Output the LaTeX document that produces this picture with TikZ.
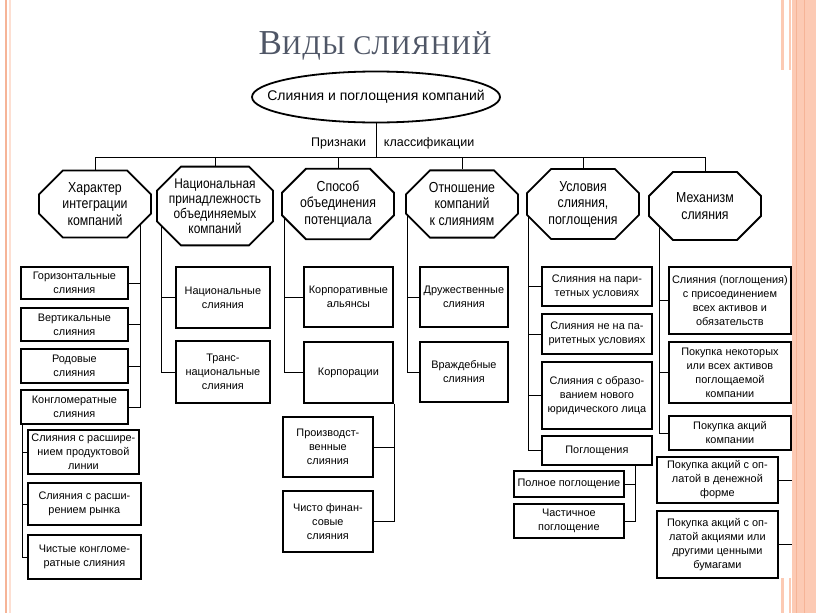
\documentclass[tikz,border=0pt]{standalone}
\usepackage{fontspec}
\setmainfont{Liberation Serif}
\newfontfamily\narrowsans{Liberation Sans}[FakeStretch=0.85]
\newfontfamily\plainsans{Liberation Sans}
\newfontfamily\titlefont{Liberation Serif}[LetterSpace=4]
\usepackage{tikz}
\usetikzlibrary{shapes.geometric, shapes.misc, backgrounds}
\definecolor{titlegray}{HTML}{4F5666}
\definecolor{peach}{HTML}{FCCAB4}
\definecolor{peachline}{HTML}{F6B497}

\begin{document}
\begin{tikzpicture}[x=1pt, y=-1pt, line width=1.8pt]

\tikzstyle{octa} = [chamfered rectangle, chamfered rectangle xsep=12pt, chamfered rectangle ysep=12pt, draw, fill=white, align=center, inner sep=0pt, minimum width=112pt, minimum height=64pt, font=\narrowsans\fontsize{14.5}{16.5}\selectfont]
\tikzstyle{box} = [rectangle, draw, fill=white, align=center, anchor=north west, inner sep=1pt, font=\plainsans\fontsize{10.9}{14}\selectfont]
\tikzstyle{tag} = [inner sep=0pt, font=\plainsans\fontsize{12.5}{14}\selectfont]

\useasboundingbox (0,0) rectangle (816,613);

% slide frame
\fill[peach] (792,0) rectangle (816,613);
\draw[peachline, line width=1pt] (796,0) -- (796,613);
\draw[peachline, line width=1pt] (804,0) -- (804,613);
\fill[peach] (781,0) rectangle (784,70);
\fill[peach] (789,0) rectangle (791,70);
\fill[peach] (781,578) rectangle (784,613);
\fill[peach] (789,578) rectangle (791,613);
\draw[peachline, line width=2.5pt] (6,0) -- (6,613);
\draw[peach!60, line width=1.5pt] (10,0) -- (10,613);

\node (title) [text=titlegray, font=\titlefont] at (375,46) {\fontsize{35}{35}\selectfont В\fontsize{27}{27}\selectfont ИДЫ СЛИЯНИЙ};

\node (merger) [ellipse, draw, minimum width=248pt, minimum height=51pt, inner xsep=-21pt, inner ysep=0pt, font=\plainsans\fontsize{14}{16}\selectfont] at (376,97) {Слияния и поглощения компаний};
\node (signs) [tag, anchor=east] at (367,143) {Признаки};
\node (classif) [tag, anchor=west] at (383,143) {классификации};
\coordinate (bus) at (376,157);

% criteria
\node (char) [octa] at (95,204) {Характер\\интеграции\\компаний};
\node (natl) [octa, minimum height=70pt, font=\narrowsans\fontsize{14}{15}\selectfont] at (215,206) {Национальная\\принадлежность\\объединяемых\\компаний};
\node (method) [octa] at (338,204) {Способ\\объединения\\потенциала};
\node (attitude) [octa] at (462,204) {Отношение\\компаний\\к слияниям};
\node (terms) [octa] at (583,204) {Условия\\слияния,\\поглощения};
\node (mech) [octa, minimum height=68pt] at (705,206) {Механизм\\слияния};

% integration
\node (horiz) [box, minimum width=107pt, minimum height=32pt] at (20,266) {Горизонтальные\\слияния};
\node (vert) [box, minimum width=107pt, minimum height=33pt] at (20,307) {Вертикальные\\слияния};
\node (gener) [box, minimum width=107pt, minimum height=34pt] at (20,348) {Родовые\\слияния};
\node (conglo) [box, minimum width=107pt, minimum height=34pt] at (20,389) {Конгломератные\\слияния};
\node (prodline) [box, minimum width=111pt, minimum height=44pt] at (27,429) {Слияния с расшире-\\нием продуктовой\\линии};
\node (market) [box, minimum width=113pt, minimum height=42pt] at (27,482) {Слияния с расши-\\рением рынка};
\node (pureconglo) [box, minimum width=113pt, minimum height=44pt] at (27,534) {Чистые конгломе-\\ратные слияния};

% nationality
\node (nat) [box, minimum width=94pt, minimum height=61pt] at (175,266) {Национальные\\слияния};
\node (trans) [box, minimum width=94pt, minimum height=62pt] at (175,340) {Транс-\\национальные\\слияния};

% potential
\node (alliance) [box, minimum width=89pt, minimum height=60pt] at (303,266) {Корпоративные\\альянсы};
\node (corp) [box, minimum width=89pt, minimum height=61pt] at (303,341) {Корпорации};
\node (product) [box, minimum width=90pt, minimum height=60pt] at (282,416) {Производст-\\венные\\слияния};
\node (finance) [box, minimum width=90pt, minimum height=61pt] at (282,490) {Чисто финан-\\совые\\слияния};

% attitude
\node (friendly) [box, minimum width=88pt, minimum height=60pt] at (419,266) {Дружественные\\слияния};
\node (hostile) [box, minimum width=88pt, minimum height=60pt] at (419,341) {Враждебные\\слияния};

% terms
\node (parity) [box, minimum width=110pt, minimum height=39pt] at (541,266) {Слияния на пари-\\тетных условиях};
\node (nonparity) [box, minimum width=110pt, minimum height=40pt] at (541,313) {Слияния не на па-\\ритетных условиях};
\node (newentity) [box, minimum width=110pt, minimum height=67pt] at (541,361) {Слияния с образо-\\ванием нового\\юридического лица};
\node (absorb) [box, minimum width=110pt, minimum height=29pt] at (541,435) {Поглощения};
\node (full) [box, minimum width=110pt, minimum height=26pt] at (513,470) {Полное поглощение};
\node (partial) [box, minimum width=110pt, minimum height=34pt] at (513,503) {Частичное\\поглощение};

% mechanism
\node (allassets) [box, minimum width=122pt, minimum height=67pt] at (668,266) {Слияния (поглощения)\\с присоединением\\всех активов и\\обязательств};
\node (someassets) [box, minimum width=122pt, minimum height=61pt] at (668,341) {Покупка некоторых\\или всех активов\\поглощаемой\\компании};
\node (shares) [box, minimum width=122pt, minimum height=34pt] at (668,415) {Покупка акций\\компании};
\node (cash) [box, minimum width=121pt, minimum height=46pt] at (656,456) {Покупка акций с оп-\\латой в денежной\\форме};
\node (stock) [box, minimum width=121pt, minimum height=67pt] at (656,510) {Покупка акций с оп-\\латой акциями или\\другими ценными\\бумагами};

\coordinate (c1) at (140,0);
\coordinate (c2) at (161,0);
\coordinate (c3) at (284,0);
\coordinate (c4) at (407,0);
\coordinate (c5) at (528,0);
\coordinate (c6) at (659,0);
\coordinate (s1) at (22,0);
\coordinate (s5) at (635,0);

\begin{scope}[on background layer]
\draw (merger.south) -- (bus);
\draw (char.north |- bus) -- (mech.north |- bus);
\draw (char.north |- bus) -- (char.north);
\draw (natl.north |- bus) -- (natl.north);
\draw (method.north |- bus) -- (method.north);
\draw (attitude.north |- bus) -- (attitude.north);
\draw (terms.north |- bus) -- (terms.north);
\draw (mech.north |- bus) -- (mech.north);

\draw (char.center -| c1) -- (conglo.east -| c1) -- (conglo.east);
\draw (horiz.east) -- (horiz.east -| c1);
\draw (vert.east) -- (vert.east -| c1);
\draw (gener.east) -- (gener.east -| c1);
\draw (conglo.south -| s1) -- (pureconglo.west -| s1) -- (pureconglo.west);
\draw (prodline.west) -- (prodline.west -| s1);
\draw (market.west) -- (market.west -| s1);

\draw (natl.center -| c2) -- (trans.west -| c2) -- (trans.west);
\draw (nat.west) -- (nat.west -| c2);

\draw (method.center -| c3) -- (corp.west -| c3) -- (corp.west);
\draw (alliance.west) -- (alliance.west -| c3);
\draw (corp.south east) -- (finance.east -| corp.east) -- (finance.east);
\draw (product.east) -- (product.east -| corp.east);

\draw (attitude.center -| c4) -- (hostile.west -| c4) -- (hostile.west);
\draw (friendly.west) -- (friendly.west -| c4);

\draw (terms.center -| c5) -- (absorb.west -| c5) -- (absorb.west);
\draw (parity.west) -- (parity.west -| c5);
\draw (nonparity.west) -- (nonparity.west -| c5);
\draw (newentity.west) -- (newentity.west -| c5);
\draw (absorb.south -| s5) -- (partial.east -| s5) -- (partial.east);
\draw (full.east) -- (full.east -| s5);

\draw (mech.center -| c6) -- (shares.west -| c6) -- (shares.west);
\draw (allassets.west) -- (allassets.west -| c6);
\draw (someassets.west) -- (someassets.west -| c6);
\draw (shares.south east) -- (stock.east -| shares.east) -- (stock.east);
\draw (cash.east) -- (cash.east -| shares.east);
\end{scope}

\end{tikzpicture}
\end{document}
